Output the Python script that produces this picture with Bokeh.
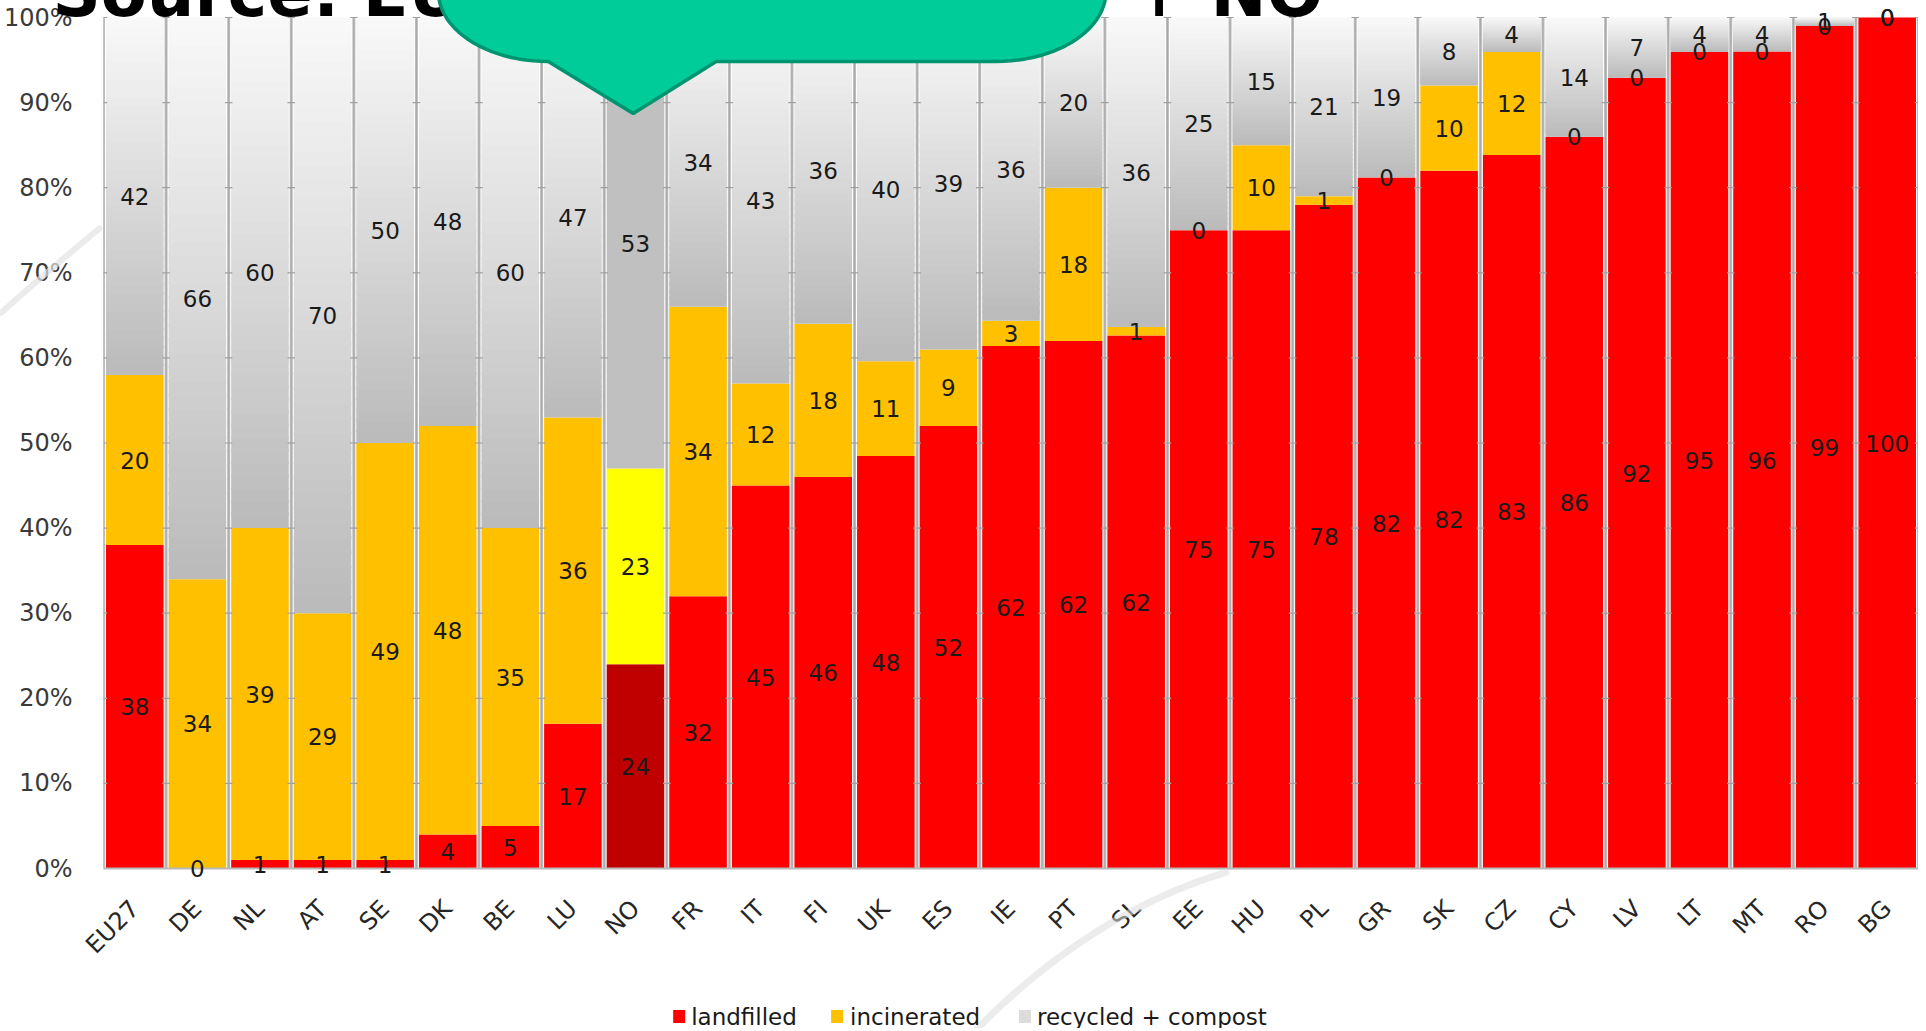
import math
import numpy as np
from bokeh.plotting import figure
from bokeh.models import Range1d, FixedTicker
from bokeh.embed import file_html
from bokeh.resources import INLINE
from bokeh.core.properties import value

# ---------------- data ----------------
countries = ["EU27", "DE", "NL", "AT", "SE", "DK", "BE", "LU", "NO", "FR",
             "IT", "FI", "UK", "ES", "IE", "PT", "SL", "EE", "HU", "PL",
             "GR", "SK", "CZ", "CY", "LV", "LT", "MT", "RO", "BG"]
landfilled = [38, 0, 1, 1, 1, 4, 5, 17, 24, 32,
              45, 46, 48, 52, 62, 62, 62, 75, 75, 78,
              82, 82, 83, 86, 92, 95, 96, 99, 100]
incinerated = [20, 34, 39, 29, 49, 48, 35, 36, 23, 34,
               12, 18, 11, 9, 3, 18, 1, 0, 10, 1,
               0, 10, 12, 0, 0, 0, 0, 0, 0]
recycled = [42, 66, 60, 70, 50, 48, 60, 47, 53, 34,
            43, 36, 40, 39, 36, 20, 36, 25, 15, 21,
            19, 8, 4, 14, 7, 4, 4, 1, 0]
y_ticks = [0, 10, 20, 30, 40, 50, 60, 70, 80, 90, 100]
y_tick_labels = ["0%", "10%", "20%", "30%", "40%", "50%", "60%", "70%", "80%", "90%", "100%"]
series_names = ["landfilled", "incinerated", "recycled + compost"]
highlight = "NO"
title_left = "Source: EUROSTAT 2008"
title_right = "+ NO"

# ---------------- style / layout (canvas pixels) ----------------
W, H = 1918, 1028
BL = 102                  # frame left
Y0_PX, Y100_PX = 868, 17  # canvas y of 0% and 100%
BB = H - Y0_PX
PX_PER_PCT = (Y0_PX - Y100_PX) / 100
Y_END = Y0_PX / PX_PER_PCT
N = len(countries)
SLOT = (W - BL) / N
FONT = "DejaVu Sans"

RED, ORANGE = "#ff0000", "#ffc000"
NO_RED, NO_YEL, NO_GREY = "#c00000", "#ffff00", "#c0c0c0"
GREY_TOP, GREY_BOT = (249, 249, 249), (186, 186, 186)


def dx(cx):  # canvas px -> data x
    return (cx - BL) / SLOT


def dy(cy):  # canvas px -> data y
    return (Y0_PX - cy) / PX_PER_PCT


p = figure(width=W, height=H, output_backend="svg", toolbar_location=None,
           x_range=Range1d(0, N), y_range=Range1d(0, Y_END),
           min_border_left=BL, min_border_right=0, min_border_top=0,
           min_border_bottom=BB)
p.outline_line_color = None
p.xgrid.grid_line_color = None
p.ygrid.grid_line_color = None
p.background_fill_color = "white"

# ---------------- faint background swooshes ----------------
def bez(p0, c0, c1, p1, n=40):
    t = np.linspace(0, 1, n)
    xs = ((1 - t) ** 3 * p0[0] + 3 * (1 - t) ** 2 * t * c0[0] + 3 * (1 - t) * t ** 2 * c1[0] + t ** 3 * p1[0])
    ys = ((1 - t) ** 3 * p0[1] + 3 * (1 - t) ** 2 * t * c0[1] + 3 * (1 - t) * t ** 2 * c1[1] + t ** 3 * p1[1])
    return [dx(v) for v in xs], [dy(v) for v in ys]

sx1, sy1 = bez((965, 1040), (1040, 960), (1130, 900), (1225, 872))
sw1 = p.line(sx1, sy1, line_color="#dcdcdc", line_width=7, line_alpha=0.55, line_cap="round")
sw1.level = "overlay"
sx2, sy2 = bez((0, 312), (30, 285), (65, 255), (98, 228))
sw2 = p.line(sx2, sy2, line_color="#e2e2e2", line_width=6, line_alpha=0.7, line_cap="round")
sw2.level = "overlay"

# ---------------- stacked bars ----------------
xc = [i + 0.5 for i in range(N)]
tot = [landfilled[i] + incinerated[i] + recycled[i] for i in range(N)]
l_top = [landfilled[i] / tot[i] * 100 for i in range(N)]
i_top = [(landfilled[i] + incinerated[i]) / tot[i] * 100 for i in range(N)]
BW = 0.92

red_cols = [NO_RED if c == highlight else RED for c in countries]
inc_cols = [NO_YEL if c == highlight else ORANGE for c in countries]

p.quad(left=[x - BW / 2 for x in xc], right=[x + BW / 2 for x in xc],
       bottom=[0] * N, top=l_top, fill_color=red_cols, line_color=None)
p.quad(left=[x - BW / 2 for x in xc], right=[x + BW / 2 for x in xc],
       bottom=l_top, top=i_top, fill_color=inc_cols, line_color=None)

# recycled: vertical grey gradient per segment (bands)
NB = 40
bl, br, bb, bt, bc = [], [], [], [], []
for i in range(N):
    if recycled[i] == 0:
        continue
    lo, hi = i_top[i], 100.0
    if countries[i] == highlight:
        bl.append(xc[i] - BW / 2); br.append(xc[i] + BW / 2)
        bb.append(lo); bt.append(hi); bc.append(NO_GREY)
        continue
    for k in range(NB):
        t = (k + 0.5) / NB
        col = tuple(int(round(GREY_BOT[j] + (GREY_TOP[j] - GREY_BOT[j]) * t)) for j in range(3))
        top_k = min(hi, lo + (hi - lo) * (k + 1) / NB + 0.3)
        bl.append(xc[i] - BW / 2); br.append(xc[i] + BW / 2)
        bb.append(lo + (hi - lo) * k / NB); bt.append(top_k)
        bc.append("#%02x%02x%02x" % col)
p.quad(left=bl, right=br, bottom=bb, top=bt, fill_color=bc, line_color=None)

# separators with small tick notches
sep_x = list(range(N + 1))
p.segment(x0=sep_x, y0=[0] * len(sep_x), x1=sep_x, y1=[100] * len(sep_x),
          line_color="#bdbdbd", line_width=3)
p.segment(x0=sep_x, y0=[0] * len(sep_x), x1=sep_x, y1=[100] * len(sep_x),
          line_color="#a9a9a9", line_width=1)
tx0, tx1, ty = [], [], []
for s in sep_x:
    for yv in y_ticks[1:]:
        tx0.append(s - 0.06); tx1.append(s + 0.06); ty.append(yv)
p.segment(x0=tx0, y0=ty, x1=tx1, y1=ty, line_color="#a0a0a0", line_width=1.2)

# ---------------- value labels ----------------
lx, ly, lt = [], [], []
for i in range(N):
    lx += [xc[i]] * 3
    ly += [l_top[i] / 2, (l_top[i] + i_top[i]) / 2, (i_top[i] + 100) / 2]
    lt += [str(landfilled[i]), str(incinerated[i]), str(recycled[i])]
lab = p.text(x=lx, y=ly, text=lt, text_align="center", text_baseline="middle",
             text_font=value(FONT), text_font_size="23px", text_color="#1a1a1a")
lab.level = "overlay"

# ---------------- axes ----------------
p.yaxis.ticker = FixedTicker(ticks=y_ticks)
p.yaxis.major_label_overrides = {t: s for t, s in zip(y_ticks, y_tick_labels)}
p.yaxis.axis_line_color = None
p.yaxis.major_tick_line_color = None
p.yaxis.minor_tick_line_color = None
p.yaxis.major_label_standoff = 25
p.yaxis.major_label_text_font = FONT
p.yaxis.major_label_text_font_size = "24px"
p.yaxis.major_label_text_color = "#3a3a3a"

p.xaxis.ticker = FixedTicker(ticks=xc)
p.xaxis.major_label_overrides = {x: c for x, c in zip(xc, countries)}
p.xaxis.major_label_orientation = math.pi / 4
p.xaxis.axis_line_color = "#b9b9b9"
p.xaxis.axis_line_width = 2
p.xaxis.major_tick_line_color = None
p.xaxis.minor_tick_line_color = None
p.xaxis.major_label_standoff = 30
p.xaxis.major_label_text_font = FONT
p.xaxis.major_label_text_font_size = "24px"
p.xaxis.major_label_text_color = "#262626"

# ---------------- legend (drawn below the frame) ----------------
LEG_Y = 1016
leg_marker_x = [678, 836, 1024]
leg_text_x = [690, 849, 1036]
leg_cols = [RED, ORANGE, "#dcdcdc"]
for mx, col in zip(leg_marker_x, leg_cols):
    sq = p.line(x=[dx(mx - 6), dx(mx + 6)], y=[dy(LEG_Y), dy(LEG_Y)],
                line_color=col, line_width=13, line_cap="butt")
    sq.level = "overlay"
lg = p.text(x=[dx(v) for v in leg_text_x], y=[dy(LEG_Y)] * 3, text=series_names,
            text_align="left", text_baseline="middle", text_font=value(FONT),
            text_font_size="23px", text_color="#1a1a1a")
lg.level = "overlay"

# ---------------- title (partly hidden) ----------------
TITLE_BASE = -8   # canvas y passed to the text glyph so the glyph bottoms sit at y~17
tt = p.text(x=[dx(51), dx(1130)], y=[dy(TITLE_BASE), dy(TITLE_BASE)], text=[title_left, title_right],
            text_align="left", text_baseline="alphabetic", text_font=value(FONT),
            text_font_style="bold", text_font_size="67px", text_color="black")
tt.level = "overlay"

# ---------------- speech bubble ----------------
BUB_L, BUB_R, BUB_B, BUB_TOP = 437, 1105, 61, -200
RX, RY = 110, 70
TIP = (632, 113)
PTR_L, PTR_R = 547, 715
pts = [(BUB_L, BUB_TOP)]
for t in np.linspace(np.pi, np.pi / 2, 24):
    pts.append((BUB_L + RX + RX * np.cos(t), BUB_B - RY + RY * np.sin(t)))
pts += [(PTR_L, BUB_B), TIP, (PTR_R, BUB_B)]
for t in np.linspace(np.pi / 2, 0, 24):
    pts.append((BUB_R - RX + RX * np.cos(t), BUB_B - RY + RY * np.sin(t)))
pts.append((BUB_R, BUB_TOP))
bub = p.patch(x=[dx(a) for a, b in pts], y=[dy(b) for a, b in pts],
              fill_color="#00cc99", line_color="#009470", line_width=3.5)
bub.level = "overlay"

open("out.html", "w").write(file_html(p, INLINE))
